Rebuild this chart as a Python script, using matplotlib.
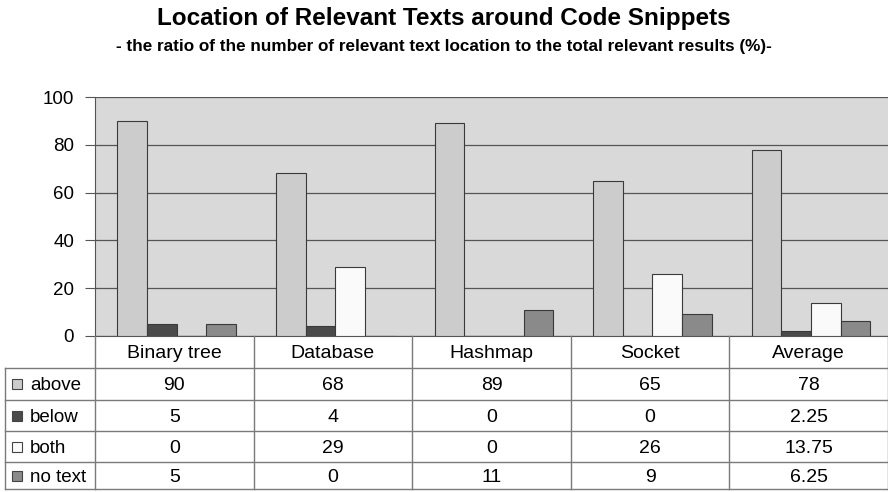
import matplotlib
matplotlib.use("Agg")
import matplotlib.pyplot as plt
from matplotlib.patches import Rectangle
import numpy as np

plt.rcParams['font.family'] = ['Liberation Sans', 'DejaVu Sans']

categories = ["Binary tree", "Database", "Hashmap", "Socket", "Average"]
series_names = ["above", "below", "both", "no text"]
above = [90, 68, 89, 65, 78]
below = [5, 4, 0, 0, 2.25]
both = [0, 29, 0, 26, 13.75]
no_text = [5, 0, 11, 9, 6.25]
labels_above = ["90", "68", "89", "65", "78"]
labels_below = ["5", "4", "0", "0", "2.25"]
labels_both = ["0", "29", "0", "26", "13.75"]
labels_no_text = ["5", "0", "11", "9", "6.25"]
yticks = [0, 20, 40, 60, 80, 100]

series = [above, below, both, no_text]
cell_text = [labels_above, labels_below, labels_both, labels_no_text]
colors = ["#cccccc", "#4a4a4a", "#fafafa", "#8a8a8a"]

W, H = 888, 492
fig = plt.figure(figsize=(W / 100, H / 100), dpi=100)

def fx(px):
    return px / W

def fy(py):
    return 1 - py / H

# Title
fig.text(0.5, fy(19), "Location of Relevant Texts around Code Snippets",
         ha="center", va="center", fontsize=17.5, fontweight="bold")
fig.text(0.5, fy(46), "- the ratio of the number of relevant text location to the total relevant results (%)-",
         ha="center", va="center", fontsize=12.3, fontweight="bold")

# Plot area
x0, x1, ytop, ybot = 95, 888, 97, 336
ax = fig.add_axes([fx(x0), fy(ybot), fx(x1 - x0), (ybot - ytop) / H])
ax.set_facecolor("#d9d9d9")
n = len(categories)
x = np.arange(n)
bw = 0.187
for i, (vals, c) in enumerate(zip(series, colors)):
    ax.bar(x + (i - 1.5) * bw + 0.015, vals, width=bw, color=c,
           edgecolor="#3a3a3a", linewidth=0.8, zorder=3)
ax.set_xlim(-0.5, n - 0.5)
ax.set_ylim(0, 100)
ax.set_yticks(yticks)
ax.set_yticklabels([str(t) for t in yticks], fontsize=13.5)
ax.yaxis.grid(True, color="#555555", linewidth=0.9, zorder=1)
ax.set_axisbelow(True)
ax.set_xticks([])
for s in ["top", "right"]:
    ax.spines[s].set_visible(False)
ax.spines["left"].set_color("#555555")
ax.spines["bottom"].set_color("#555555")
ax.tick_params(axis="y", length=7, color="#555555", pad=8)

# Table
tax = fig.add_axes([0, 0, 1, 1])
tax.set_xlim(0, W)
tax.set_ylim(H, 0)
tax.axis("off")
lc = "#7a7a7a"
col_w = (x1 - x0) / n
row_y = [336, 368, 400, 431, 462, 489]
lab_x0 = 5
# horizontal lines
for yy in row_y[1:]:
    tax.plot([lab_x0, x1], [yy, yy], color=lc, lw=1)
# vertical lines
tax.plot([lab_x0, lab_x0], [row_y[1], row_y[-1]], color=lc, lw=1)
for j in range(n + 1):
    xx = x0 + j * col_w
    tax.plot([xx, xx], [row_y[0], row_y[-1]], color=lc, lw=1)
# header
for j, cat in enumerate(categories):
    tax.text(x0 + (j + 0.5) * col_w, (row_y[0] + row_y[1]) / 2, cat,
             ha="center", va="center_baseline", fontsize=14)
# rows
for i, name in enumerate(series_names):
    yc = (row_y[i + 1] + row_y[i + 2]) / 2
    tax.add_patch(Rectangle((12, yc - 5), 10, 10, facecolor=colors[i],
                            edgecolor="#444444", lw=0.8))
    tax.text(30, yc, name, ha="left", va="center_baseline", fontsize=13.5)
    for j in range(n):
        tax.text(x0 + (j + 0.5) * col_w, yc, cell_text[i][j],
                 ha="center", va="center_baseline", fontsize=14)

fig.savefig("out.png", dpi=100)
